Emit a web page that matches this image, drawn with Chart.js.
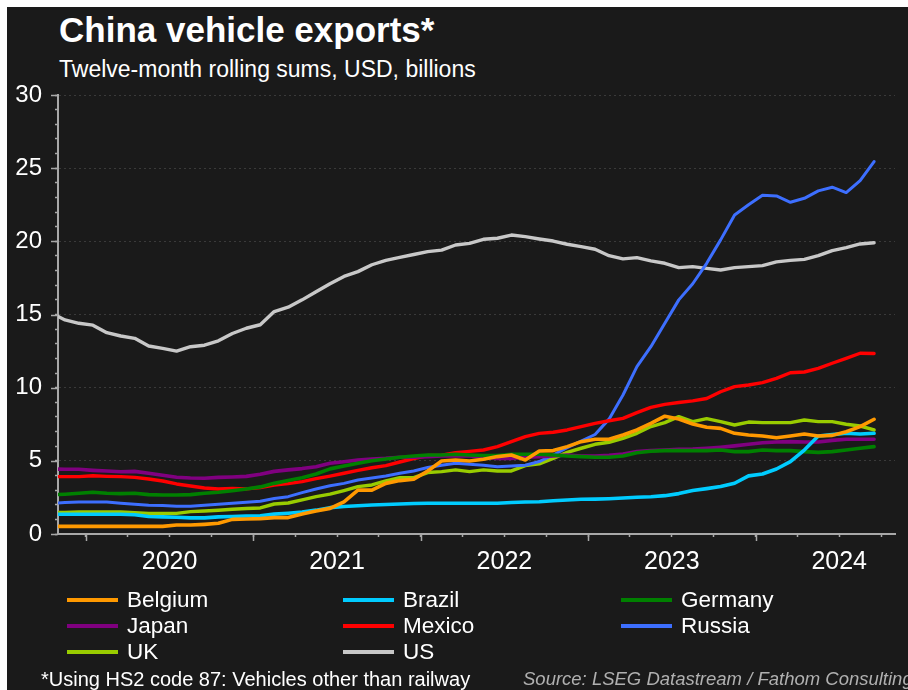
<!DOCTYPE html>
<html><head><meta charset="utf-8">
<script src="https://cdn.jsdelivr.net/npm/chart.js@4.4.1/dist/chart.umd.min.js"></script>
<style>
html,body{margin:0;padding:0;background:#fff;}
#wrap{position:relative;width:908px;height:690px;overflow:hidden;background:#fff;}
#bg{position:absolute;left:7px;top:7px;right:0;bottom:0;background:#1a1a1a;}
canvas{position:absolute;left:0;top:0;}
.t{position:absolute;white-space:nowrap;font-family:"Liberation Sans",Arial,sans-serif;color:#fff;line-height:1;}
.sw{position:absolute;height:4px;width:51px;}
</style></head><body>
<div id="wrap">
<div id="bg"></div>
<div class="t" style="left:59px;top:12px;font-size:35px;font-weight:bold;">China vehicle exports*</div>
<div class="t" style="left:59px;top:58px;font-size:23px;">Twelve-month rolling sums, USD, billions</div>
<canvas id="c" width="908" height="690"></canvas>
<div id="legend"></div>
<div class="t" style="left:41px;top:669px;font-size:20px;">*Using HS2 code 87: Vehicles other than railway</div>
<div class="t" style="left:523px;top:670px;font-size:18.5px;font-style:italic;color:#b0b0b0;">Source: LSEG Datastream / Fathom Consulting</div>
</div>
<script>
// Monthly categories (twelve-month rolling sums, USD billions)
const months = [
 '2019-10','2019-11','2019-12',
 '2020-01','2020-02','2020-03','2020-04','2020-05','2020-06','2020-07','2020-08','2020-09','2020-10','2020-11','2020-12',
 '2021-01','2021-02','2021-03','2021-04','2021-05','2021-06','2021-07','2021-08','2021-09','2021-10','2021-11','2021-12',
 '2022-01','2022-02','2022-03','2022-04','2022-05','2022-06','2022-07','2022-08','2022-09','2022-10','2022-11','2022-12',
 '2023-01','2023-02','2023-03','2023-04','2023-05','2023-06','2023-07','2023-08','2023-09','2023-10','2023-11','2023-12',
 '2024-01','2024-02','2024-03','2024-04','2024-05','2024-06','2024-07','2024-08','2024-09'
];
const belgium = [0.52,0.52,0.52,0.52,0.52,0.52,0.52,0.52,0.52,0.61,0.61,0.66,0.73,1.0,1.03,1.05,1.12,1.12,1.37,1.57,
 1.75,2.2,3.0,3.0,3.46,3.65,3.74,4.31,4.99,5.06,4.99,5.11,5.29,5.4,5.06,5.67,5.7,5.97,6.31,6.47,
 6.47,6.77,7.11,7.56,8.05,7.86,7.52,7.29,7.22,6.88,6.77,6.7,6.58,6.7,6.83,6.7,6.74,6.99,7.34,7.84];
const brazil = [1.35,1.35,1.35,1.35,1.35,1.35,1.32,1.2,1.17,1.14,1.1,1.1,1.17,1.2,1.23,1.25,1.36,1.42,1.5,1.63,
 1.8,1.88,1.93,1.98,2.02,2.05,2.08,2.1,2.1,2.1,2.1,2.1,2.1,2.15,2.19,2.2,2.27,2.32,2.37,2.38,
 2.41,2.46,2.51,2.55,2.62,2.76,2.97,3.1,3.24,3.47,3.97,4.1,4.44,4.94,5.74,6.7,6.79,6.88,6.83,6.88];
const germany = [2.67,2.72,2.78,2.85,2.78,2.76,2.78,2.69,2.67,2.67,2.69,2.78,2.85,2.96,3.08,3.22,3.46,3.65,3.85,4.1,
 4.45,4.65,4.83,5.0,5.13,5.24,5.33,5.4,5.4,5.45,5.4,5.36,5.36,5.45,5.45,5.45,5.4,5.33,5.29,5.24,
 5.24,5.33,5.55,5.65,5.7,5.7,5.7,5.7,5.74,5.63,5.63,5.74,5.7,5.7,5.63,5.58,5.63,5.74,5.86,5.97];
const japan = [4.45,4.42,4.42,4.35,4.3,4.25,4.28,4.15,4.02,3.88,3.83,3.81,3.87,3.9,3.94,4.08,4.28,4.38,4.47,4.6,
 4.83,4.94,5.06,5.13,5.17,5.24,5.24,5.28,5.33,5.35,5.33,5.24,5.17,5.17,5.24,5.28,5.33,5.4,5.33,5.33,
 5.38,5.47,5.63,5.7,5.74,5.79,5.81,5.86,5.93,6.02,6.13,6.24,6.29,6.31,6.29,6.29,6.4,6.47,6.47,6.47];
const mexico = [3.92,3.92,3.92,3.98,3.94,3.92,3.87,3.76,3.62,3.42,3.28,3.14,3.08,3.12,3.08,3.17,3.35,3.44,3.58,3.78,
 3.96,4.15,4.35,4.53,4.67,4.92,5.15,5.36,5.38,5.56,5.65,5.74,5.97,6.31,6.65,6.88,6.95,7.11,7.34,7.56,
 7.74,7.9,8.29,8.65,8.86,8.99,9.1,9.26,9.72,10.07,10.18,10.34,10.64,11.02,11.07,11.32,11.67,12.0,12.35,12.33];
const russia = [2.1,2.15,2.19,2.19,2.19,2.1,2.03,1.96,1.94,1.89,1.89,1.96,2.03,2.1,2.17,2.24,2.42,2.55,2.83,3.08,
 3.3,3.46,3.69,3.83,3.97,4.15,4.31,4.54,4.7,4.83,4.76,4.7,4.6,4.65,4.7,4.95,5.4,5.9,6.35,6.8,
 7.85,9.5,11.44,12.8,14.4,16.0,17.1,18.5,20.1,21.8,22.5,23.15,23.1,22.67,22.94,23.45,23.7,23.33,24.15,25.45];
const uk = [1.47,1.48,1.5,1.5,1.5,1.5,1.46,1.41,1.41,1.41,1.53,1.57,1.62,1.69,1.74,1.78,2.05,2.12,2.33,2.55,
 2.72,2.97,3.24,3.35,3.63,3.85,3.85,4.2,4.26,4.38,4.26,4.38,4.31,4.31,4.67,4.79,5.17,5.58,5.86,6.13,
 6.27,6.54,6.88,7.34,7.61,8.02,7.68,7.88,7.68,7.45,7.65,7.61,7.61,7.61,7.79,7.68,7.68,7.5,7.38,7.11];
const us = [15.1,14.63,14.4,14.27,13.76,13.53,13.37,12.85,12.69,12.5,12.8,12.9,13.2,13.7,14.06,14.3,15.2,15.5,16.0,16.56,
 17.1,17.6,17.93,18.4,18.7,18.9,19.1,19.3,19.4,19.75,19.86,20.14,20.21,20.43,20.32,20.16,20.02,19.8,19.64,19.46,
 19.02,18.8,18.89,18.66,18.5,18.2,18.27,18.15,18.04,18.2,18.27,18.34,18.6,18.7,18.77,19.02,19.37,19.57,19.82,19.9];
const seriesNames = ['Belgium','Brazil','Germany','Japan','Mexico','Russia','UK','US'];
const seriesValues = [belgium, brazil, germany, japan, mexico, russia, uk, us];
const seriesColors = ['#ff9900','#00ccff','#008000','#800080','#ff0000','#3d6fff','#99cc00','#c8c8c8'];
const seriesWidths = [3.6, 3.6, 3.6, 3.6, 3.4, 3, 3.4, 3.4];
const yTickStep = 1, yLabelStep = 5;

const [y0, m0] = months[0].split('-').map(Number);
const monthOf = v => ((m0 - 1 + v) % 12 + 12) % 12;   // 0 = January
const yearOf = v => y0 + Math.floor((m0 - 1 + v) / 12);

// each monthly value sits in the middle of its month on a month-count axis
const toPoints = arr => arr.map((v, j) => ({x: j + 0.5, y: v}));

Chart.defaults.font.family = "'Liberation Sans', Arial, sans-serif";
Chart.defaults.color = '#ffffff';

const longTicks = {
  id: 'longTicks',
  afterDraw(chart) {
    const {ctx, scales: {x, y}} = chart;
    ctx.save();
    ctx.strokeStyle = '#a8a8a8';
    ctx.lineWidth = 1.5;
    ctx.beginPath();
    x.ticks.forEach(t => {
      if (monthOf(t.value) === 0) {
        const px = Math.round(x.getPixelForValue(t.value)) + 0.5;
        ctx.moveTo(px, x.top); ctx.lineTo(px, x.top + 7);
      }
    });
    y.ticks.forEach(t => {
      if (t.value % yLabelStep === 0) {
        const py = Math.round(y.getPixelForValue(t.value)) + 0.5;
        ctx.moveTo(y.right - 7, py); ctx.lineTo(y.right, py);
      }
    });
    ctx.stroke();
    ctx.restore();
  }
};

const chart = new Chart(document.getElementById('c'), {
  type: 'line',
  data: {
    datasets: seriesNames.map((n, i) => ({
      label: n,
      data: toPoints(seriesValues[i]),
      borderColor: seriesColors[i],
      backgroundColor: seriesColors[i],
      borderWidth: seriesWidths[i],
      pointRadius: 0,
      tension: 0,
      borderJoinStyle: 'round',
      borderCapStyle: 'round',
      clip: {left: 0, top: 5, right: 5, bottom: 5}
    }))
  },
  options: {
    responsive: false,
    animation: false,
    events: [],
    layout: {padding: {left: 0, top: 95, right: 13, bottom: 116}},
    plugins: {legend: {display: false}, tooltip: {enabled: false}, title: {display: false}},
    scales: {
      x: {
        type: 'linear',
        min: 1, max: 61,
        afterBuildTicks: scale => {
          const t = [];
          for (let v = Math.ceil(scale.min); v <= scale.max; v++) if (monthOf(v) % 3 === 0) t.push({value: v});
          scale.ticks = t;
        },
        afterFit: scale => { scale.height = 40; },
        ticks: {
          autoSkip: false, maxRotation: 0, padding: 10,
          font: {size: 25}, color: '#ffffff',
          callback: v => monthOf(v) === 6 ? String(yearOf(v)) : ''
        },
        grid: {drawOnChartArea: false, tickLength: 3, tickColor: '#a8a8a8', tickWidth: 1.5},
        border: {display: true, color: '#a8a8a8', width: 2}
      },
      y: {
        min: 0, max: 30,
        afterFit: scale => { scale.width = 58; },
        ticks: {
          stepSize: yTickStep, autoSkip: false, padding: 13,
          font: {size: 24}, color: '#ffffff',
          callback: v => v % yLabelStep === 0 ? String(v) : ''
        },
        grid: {
          tickLength: 3, tickColor: '#a8a8a8', tickWidth: 1.5, tickBorderDash: [],
          color: c => (c.tick && c.tick.value % yLabelStep === 0 && c.tick.value !== 0) ? '#3a3a3a' : 'rgba(0,0,0,0)',
          lineWidth: 1
        },
        border: {display: true, color: '#a8a8a8', width: 2, dash: [2, 3]}
      }
    }
  },
  plugins: [longTicks]
});

// Legend in three columns, built from the chart's datasets
const legend = document.getElementById('legend');
const colX = [67, 343, 621], rowY = [600, 626, 652];
chart.data.datasets.forEach((ds, i) => {
  const c = i % 3, r = Math.floor(i / 3);
  const sw = document.createElement('div');
  sw.className = 'sw';
  sw.style.left = colX[c] + 'px';
  sw.style.top = (rowY[r] - 2) + 'px';
  sw.style.background = ds.borderColor;
  legend.appendChild(sw);
  const tx = document.createElement('div');
  tx.className = 't';
  tx.style.left = (colX[c] + 60) + 'px';
  tx.style.top = (rowY[r] - 11) + 'px';
  tx.style.fontSize = '22.5px';
  tx.textContent = ds.label;
  legend.appendChild(tx);
});
</script>
</body></html>
